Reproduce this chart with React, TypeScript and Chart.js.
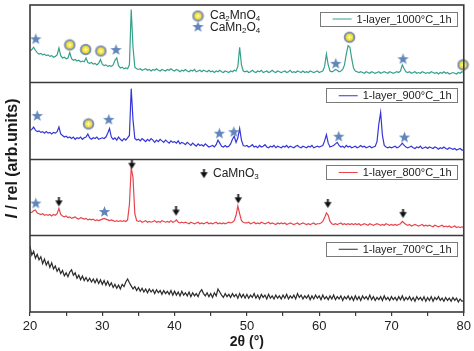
import React, { useEffect, useRef } from 'react';
import { Chart, registerables } from 'chart.js';

Chart.register(...registerables);

const FONT = '"Liberation Sans", Arial, Helvetica, sans-serif';

// 2θ grid: 20° .. 80° every 0.25°
const X_MIN = 20;
const X_MAX = 80;
const X_STEP = 0.25;

const sampleNames = ['1-layer_1000°C_1h', '1-layer_900°C_1h', '1-layer_800°C_1h', '1-layer_700°C_1h'];
const sampleColors = ['#35a08a', '#3535d8', '#e8444c', '#2b2b2b'];
const panelOffsets = [3, 2, 1, 0];

// intensities (fraction of panel height), one value every 0.25° from 20° to 80°
const s1000 = [
  0.40, 0.42, 0.45, 0.41, 0.38, 0.36, 0.37, 0.35, 0.36, 0.34, 0.35, 0.33, 0.34, 0.32, 0.33, 0.35, 0.44, 0.34, 0.31, 0.32,
  0.30, 0.31, 0.38, 0.30, 0.28, 0.29, 0.27, 0.28, 0.26, 0.27, 0.26, 0.31, 0.25, 0.24, 0.25, 0.23, 0.24, 0.22, 0.24, 0.29,
  0.23, 0.21, 0.22, 0.20, 0.21, 0.20, 0.22, 0.28, 0.31, 0.21, 0.18, 0.19, 0.17, 0.18, 0.17, 0.22, 0.94, 0.45, 0.19, 0.17,
  0.16, 0.17, 0.15, 0.16, 0.17, 0.15, 0.16, 0.14, 0.16, 0.15, 0.17, 0.15, 0.14, 0.16, 0.15, 0.14, 0.16, 0.15, 0.17, 0.15,
  0.14, 0.16, 0.15, 0.13, 0.15, 0.14, 0.16, 0.14, 0.13, 0.15, 0.14, 0.16, 0.13, 0.14, 0.15, 0.13, 0.15, 0.14, 0.13, 0.15,
  0.13, 0.14, 0.12, 0.14, 0.13, 0.15, 0.13, 0.12, 0.14, 0.13, 0.12, 0.14, 0.13, 0.15, 0.14, 0.20, 0.45, 0.22, 0.14, 0.13,
  0.14, 0.12, 0.13, 0.15, 0.13, 0.12, 0.14, 0.13, 0.15, 0.12, 0.13, 0.14, 0.12, 0.13, 0.15, 0.13, 0.12, 0.14, 0.13, 0.12,
  0.13, 0.14, 0.12, 0.13, 0.15, 0.12, 0.13, 0.12, 0.14, 0.13, 0.12, 0.14, 0.12, 0.13, 0.12, 0.14, 0.13, 0.12, 0.13, 0.14,
  0.12, 0.13, 0.14, 0.20, 0.36, 0.22, 0.14, 0.13, 0.14, 0.16, 0.15, 0.13, 0.14, 0.16, 0.22, 0.36, 0.47, 0.45, 0.30, 0.18,
  0.14, 0.13, 0.12, 0.13, 0.12, 0.11, 0.13, 0.12, 0.11, 0.13, 0.12, 0.11, 0.12, 0.13, 0.11, 0.12, 0.13, 0.12, 0.11, 0.13,
  0.12, 0.11, 0.12, 0.13, 0.12, 0.14, 0.22, 0.17, 0.13, 0.12, 0.13, 0.11, 0.12, 0.13, 0.11, 0.12, 0.11, 0.13, 0.12, 0.11,
  0.12, 0.11, 0.13, 0.12, 0.11, 0.12, 0.10, 0.12, 0.11, 0.13, 0.11, 0.12, 0.10, 0.11, 0.12, 0.11, 0.10, 0.12, 0.11, 0.13, 0.12,
];

const s900 = [
  0.36, 0.38, 0.41, 0.37, 0.35, 0.36, 0.34, 0.35, 0.33, 0.35, 0.33, 0.34, 0.32, 0.34, 0.33, 0.35, 0.41, 0.32, 0.30, 0.28,
  0.29, 0.27, 0.28, 0.26, 0.28, 0.25, 0.27, 0.26, 0.28, 0.25, 0.27, 0.28, 0.32, 0.27, 0.25, 0.27, 0.26, 0.28, 0.25, 0.26,
  0.27, 0.26, 0.28, 0.33, 0.39, 0.28, 0.25, 0.27, 0.24, 0.28, 0.25, 0.23, 0.26, 0.24, 0.27, 0.30, 0.91, 0.50, 0.26, 0.24,
  0.25, 0.23, 0.26, 0.24, 0.22, 0.25, 0.23, 0.26, 0.24, 0.21, 0.24, 0.22, 0.25, 0.23, 0.21, 0.24, 0.22, 0.20, 0.23, 0.21,
  0.22, 0.20, 0.23, 0.19, 0.21, 0.20, 0.18, 0.21, 0.19, 0.17, 0.20, 0.18, 0.16, 0.19, 0.17, 0.18, 0.16, 0.19, 0.17, 0.15,
  0.16, 0.17, 0.15, 0.18, 0.24, 0.20, 0.16, 0.15, 0.17, 0.15, 0.16, 0.19, 0.25, 0.29, 0.21, 0.27, 0.39, 0.24, 0.17, 0.16,
  0.17, 0.15, 0.16, 0.18, 0.15, 0.16, 0.14, 0.17, 0.15, 0.16, 0.18, 0.15, 0.14, 0.16, 0.15, 0.17, 0.14, 0.16, 0.15, 0.14,
  0.16, 0.15, 0.17, 0.14, 0.16, 0.15, 0.14, 0.16, 0.17, 0.15, 0.14, 0.16, 0.15, 0.14, 0.16, 0.15, 0.17, 0.14, 0.15, 0.16,
  0.15, 0.16, 0.17, 0.23, 0.31, 0.20, 0.15, 0.16, 0.17, 0.19, 0.21, 0.17, 0.15, 0.16, 0.14, 0.17, 0.15, 0.16, 0.14, 0.15,
  0.16, 0.14, 0.15, 0.17, 0.15, 0.16, 0.14, 0.15, 0.16, 0.14, 0.15, 0.16, 0.22, 0.45, 0.60, 0.30, 0.17, 0.15, 0.14, 0.15,
  0.14, 0.15, 0.16, 0.14, 0.15, 0.17, 0.20, 0.17, 0.15, 0.14, 0.15, 0.16, 0.14, 0.13, 0.15, 0.14, 0.16, 0.13, 0.14, 0.15,
  0.13, 0.15, 0.14, 0.13, 0.15, 0.14, 0.12, 0.14, 0.13, 0.15, 0.13, 0.12, 0.14, 0.13, 0.12, 0.13, 0.11, 0.12, 0.13, 0.11, 0.11,
];

const s800 = [
  0.29, 0.30, 0.32, 0.33, 0.29, 0.28, 0.27, 0.28, 0.26, 0.27, 0.26, 0.27, 0.25, 0.27, 0.26, 0.28, 0.35, 0.27, 0.25, 0.24,
  0.25, 0.23, 0.24, 0.22, 0.23, 0.24, 0.22, 0.21, 0.23, 0.22, 0.21, 0.22, 0.20, 0.21, 0.20, 0.21, 0.19, 0.20, 0.19, 0.20,
  0.21, 0.22, 0.21, 0.20, 0.19, 0.20, 0.19, 0.18, 0.19, 0.18, 0.19, 0.18, 0.19, 0.18, 0.20, 0.40, 0.88, 0.75, 0.28, 0.19,
  0.18, 0.19, 0.17, 0.18, 0.19, 0.17, 0.18, 0.17, 0.18, 0.19, 0.17, 0.18, 0.17, 0.19, 0.18, 0.17, 0.18, 0.17, 0.19, 0.17,
  0.18, 0.20, 0.17, 0.16, 0.17, 0.16, 0.17, 0.16, 0.15, 0.17, 0.16, 0.15, 0.16, 0.17, 0.15, 0.16, 0.15, 0.16, 0.17, 0.15,
  0.16, 0.15, 0.16, 0.17, 0.15, 0.16, 0.15, 0.16, 0.15, 0.16, 0.17, 0.16, 0.17, 0.19, 0.26, 0.38, 0.28, 0.19, 0.17, 0.16,
  0.16, 0.17, 0.15, 0.16, 0.17, 0.15, 0.16, 0.15, 0.17, 0.16, 0.15, 0.16, 0.17, 0.15, 0.16, 0.15, 0.14, 0.16, 0.15, 0.16,
  0.15, 0.16, 0.14, 0.15, 0.16, 0.15, 0.14, 0.15, 0.16, 0.14, 0.15, 0.16, 0.15, 0.14, 0.15, 0.14, 0.15, 0.16, 0.14, 0.15,
  0.15, 0.16, 0.18, 0.23, 0.29, 0.26, 0.18, 0.15, 0.14, 0.15, 0.14, 0.15, 0.16, 0.14, 0.15, 0.14, 0.15, 0.14, 0.15, 0.14,
  0.15, 0.14, 0.15, 0.13, 0.14, 0.15, 0.14, 0.13, 0.15, 0.14, 0.13, 0.14, 0.15, 0.14, 0.13, 0.14, 0.13, 0.15, 0.14, 0.13,
  0.14, 0.13, 0.14, 0.13, 0.14, 0.15, 0.18, 0.16, 0.14, 0.13, 0.14, 0.12, 0.13, 0.14, 0.13, 0.12, 0.13, 0.14, 0.12, 0.13,
  0.12, 0.13, 0.12, 0.11, 0.13, 0.12, 0.11, 0.12, 0.13, 0.11, 0.12, 0.11, 0.12, 0.10, 0.11, 0.12, 0.10, 0.11, 0.10, 0.11, 0.10,
];

const s700 = [
  0.86, 0.74, 0.79, 0.70, 0.75, 0.68, 0.72, 0.63, 0.69, 0.61, 0.66, 0.58, 0.64, 0.56, 0.60, 0.53, 0.57, 0.50, 0.54, 0.47,
  0.51, 0.46, 0.52, 0.55, 0.48, 0.51, 0.44, 0.48, 0.42, 0.47, 0.41, 0.45, 0.40, 0.44, 0.39, 0.43, 0.38, 0.43, 0.37, 0.42,
  0.36, 0.41, 0.35, 0.40, 0.34, 0.38, 0.32, 0.36, 0.31, 0.35, 0.30, 0.36, 0.33, 0.39, 0.43, 0.38, 0.34, 0.30, 0.33, 0.28,
  0.32, 0.27, 0.31, 0.26, 0.30, 0.25, 0.30, 0.26, 0.29, 0.24, 0.29, 0.25, 0.28, 0.23, 0.28, 0.24, 0.27, 0.23, 0.28, 0.22,
  0.27, 0.22, 0.26, 0.21, 0.27, 0.22, 0.25, 0.21, 0.26, 0.20, 0.25, 0.21, 0.24, 0.20, 0.26, 0.29, 0.24, 0.21, 0.25, 0.20,
  0.24, 0.19, 0.25, 0.21, 0.30, 0.26, 0.22, 0.19, 0.24, 0.20, 0.23, 0.19, 0.24, 0.20, 0.23, 0.18, 0.24, 0.19, 0.23, 0.18,
  0.23, 0.18, 0.22, 0.19, 0.24, 0.18, 0.22, 0.17, 0.23, 0.19, 0.22, 0.17, 0.23, 0.18, 0.21, 0.17, 0.22, 0.18, 0.21, 0.17,
  0.22, 0.18, 0.23, 0.17, 0.21, 0.18, 0.22, 0.17, 0.24, 0.19, 0.22, 0.17, 0.21, 0.18, 0.22, 0.16, 0.21, 0.17, 0.22, 0.18,
  0.21, 0.16, 0.22, 0.17, 0.20, 0.16, 0.21, 0.17, 0.22, 0.16, 0.20, 0.17, 0.21, 0.15, 0.20, 0.17, 0.21, 0.16, 0.20, 0.15,
  0.21, 0.16, 0.20, 0.15, 0.21, 0.17, 0.20, 0.16, 0.22, 0.16, 0.20, 0.15, 0.19, 0.16, 0.20, 0.15, 0.21, 0.16, 0.19, 0.15,
  0.20, 0.16, 0.19, 0.15, 0.20, 0.16, 0.21, 0.15, 0.19, 0.16, 0.20, 0.15, 0.19, 0.14, 0.20, 0.16, 0.19, 0.15, 0.20, 0.14,
  0.19, 0.15, 0.20, 0.14, 0.19, 0.16, 0.20, 0.15, 0.18, 0.14, 0.19, 0.15, 0.18, 0.14, 0.19, 0.15, 0.18, 0.13, 0.17, 0.14, 0.15,
];

const seriesValues = [s1000, s900, s800, s700];

// phase markers: [2θ, height as fraction of panel]
const ca2mno4_1000 = [[25.5, 0.48], [27.7, 0.42], [29.8, 0.40], [64.2, 0.58], [79.9, 0.22]];
const camn2o4_1000 = [[20.8, 0.56], [31.9, 0.42], [62.3, 0.24], [71.6, 0.30]];
const ca2mno4_900 = [[28.1, 0.45]];
const camn2o4_900 = [[21.0, 0.56], [30.9, 0.51], [46.2, 0.33], [48.2, 0.35], [62.7, 0.29], [71.8, 0.28]];
const camn2o4_800 = [[20.8, 0.42], [30.3, 0.31]];
const camno3_800 = [[24.0, 0.43], [34.1, 0.92], [40.2, 0.31], [48.8, 0.47], [61.2, 0.41], [71.6, 0.28]];

function makeStar(): HTMLCanvasElement {
  const c = document.createElement('canvas');
  c.width = 13; c.height = 13;
  const g = c.getContext('2d')!;
  g.beginPath();
  for (let k = 0; k < 10; k++) {
    const r = k % 2 === 0 ? 6 : 2.5;
    const a = -Math.PI / 2 + (k * Math.PI) / 5;
    const px = 6.5 + r * Math.cos(a);
    const py = 7 + r * Math.sin(a);
    if (k === 0) g.moveTo(px, py); else g.lineTo(px, py);
  }
  g.closePath();
  g.fillStyle = '#6286bb';
  g.fill();
  return c;
}

function makeCircle(): HTMLCanvasElement {
  const c = document.createElement('canvas');
  c.width = 13; c.height = 13;
  const g = c.getContext('2d')!;
  g.beginPath(); g.arc(6.5, 6.5, 5.8, 0, Math.PI * 2); g.fillStyle = '#7e8dae'; g.fill();
  g.beginPath(); g.arc(6.5, 6.5, 3.8, 0, Math.PI * 2); g.fillStyle = '#eee03a'; g.fill();
  g.strokeStyle = '#fff7a8'; g.lineWidth = 1.3;
  g.beginPath(); g.moveTo(4.3, 6.5); g.lineTo(8.7, 6.5); g.moveTo(6.5, 4.3); g.lineTo(6.5, 8.7); g.stroke();
  return c;
}

function makeArrow(): HTMLCanvasElement {
  const c = document.createElement('canvas');
  c.width = 9; c.height = 10;
  const g = c.getContext('2d')!;
  g.fillStyle = '#111';
  g.fillRect(3.6, 0, 1.8, 4);
  g.beginPath(); g.moveTo(0.8, 3.2); g.lineTo(8.2, 3.2); g.lineTo(4.5, 9.2); g.closePath(); g.fill();
  return c;
}

function drawChem(ctx: CanvasRenderingContext2D, parts: [string, boolean][], x: number, y: number) {
  let cx = x;
  for (const [t, sub] of parts) {
    ctx.font = sub ? `8px ${FONT}` : `12px ${FONT}`;
    ctx.fillText(t, cx, sub ? y + 3 : y);
    cx += ctx.measureText(t).width;
  }
}

export default function App() {
  const ref = useRef<HTMLCanvasElement | null>(null);

  useEffect(() => {
    if (!ref.current) return;
    const star = makeStar();
    const circle = makeCircle();
    const arrow = makeArrow();

    const markerSet = (pts: number[][], off: number, img: HTMLCanvasElement) => ({
      data: pts.map(([x, y]) => ({ x, y: y + off })),
      showLine: false,
      pointStyle: img,
      pointRadius: 5,
      pointHoverRadius: 5,
      borderWidth: 0,
      clip: false as any,
    });

    const lineSets = seriesValues.map((vals, k) => ({
      label: sampleNames[k],
      data: vals.map((v, i) => ({ x: X_MIN + i * X_STEP, y: v + panelOffsets[k] })),
      borderColor: sampleColors[k],
      backgroundColor: sampleColors[k],
      borderWidth: 1.2,
      pointRadius: 0,
      tension: 0,
      fill: false,
    }));

    const framePlugin = {
      id: 'xrdFrame',
      afterDatasetsDraw(chart: any) {
        const { ctx, chartArea: a, scales } = chart;
        const y = scales.y;
        ctx.save();
        // panel separators and frame
        ctx.strokeStyle = '#3a3a3a';
        ctx.lineWidth = 1.6;
        for (let k = 1; k <= 3; k++) {
          const yy = Math.round(y.getPixelForValue(k)) + 0.5;
          ctx.beginPath(); ctx.moveTo(a.left, yy); ctx.lineTo(a.right, yy); ctx.stroke();
        }
        ctx.strokeRect(a.left, a.top, a.right - a.left, a.bottom - a.top);

        // sample legend boxes
        ctx.textBaseline = 'middle';
        ctx.textAlign = 'left';
        ctx.font = `11px ${FONT}`;
        for (let k = 0; k < 4; k++) {
          const top = y.getPixelForValue(panelOffsets[k] + 1) + 6.5;
          const h = 14;
          const right = 457.5;
          const tw = ctx.measureText(sampleNames[k]).width;
          const tx = right - 6 - tw;
          const l2 = tx - 5;
          const l1 = l2 - 19;
          const left = l1 - 12.5;
          ctx.fillStyle = '#ffffff';
          ctx.fillRect(left, top, right - left, h);
          ctx.strokeStyle = '#7a7a7a';
          ctx.lineWidth = 1;
          ctx.strokeRect(Math.round(left) + 0.5, Math.round(top) + 0.5, Math.round(right - left), h);
          ctx.strokeStyle = sampleColors[k];
          ctx.beginPath(); ctx.moveTo(l1, top + h / 2 + 0.5); ctx.lineTo(l2, top + h / 2 + 0.5); ctx.stroke();
          ctx.fillStyle = '#222';
          ctx.fillText(sampleNames[k], tx, top + h / 2 + 1);
        }

        // phase legends
        ctx.drawImage(circle, 198 - 6.5, 16 - 6.5);
        ctx.drawImage(star, 198 - 6.5, 27 - 7);
        ctx.fillStyle = '#222';
        drawChem(ctx, [['Ca', false], ['2', true], ['MnO', false], ['4', true]], 210, 16);
        drawChem(ctx, [['CaMn', false], ['2', true], ['O', false], ['4', true]], 210, 28);
        ctx.drawImage(arrow, 204 - 4.5, 174 - 5);
        drawChem(ctx, [['CaMnO', false], ['3', true]], 213, 174);

        // y-axis title
        ctx.translate(13, (a.top + a.bottom) / 2);
        ctx.rotate(-Math.PI / 2);
        const f1 = `italic bold 16px ${FONT}`;
        const f2 = `bold 16px ${FONT}`;
        ctx.font = f1;
        const w1 = ctx.measureText('I').width;
        ctx.font = f2;
        const rest = ' / rel (arb.units)';
        const w2 = ctx.measureText(rest).width;
        const sx = -(w1 + w2) / 2;
        ctx.fillStyle = '#1a1a1a';
        ctx.font = f1;
        ctx.fillText('I', sx, 0);
        ctx.font = f2;
        ctx.fillText(rest, sx + w1, 0);
        ctx.restore();
      },
    };

    const chart = new Chart(ref.current, {
      type: 'line',
      data: {
        datasets: [
          markerSet(ca2mno4_1000, 3, circle),
          markerSet(camn2o4_1000, 3, star),
          markerSet(ca2mno4_900, 2, circle),
          markerSet(camn2o4_900, 2, star),
          markerSet(camn2o4_800, 1, star),
          markerSet(camno3_800, 1, arrow),
          ...lineSets,
        ] as any,
      },
      options: {
        responsive: false,
        animation: false,
        devicePixelRatio: 1,
        layout: { padding: { left: 30, right: 7, top: 3, bottom: 0 } },
        plugins: { legend: { display: false }, tooltip: { enabled: false } },
        events: [],
        scales: {
          x: {
            type: 'linear',
            min: X_MIN,
            max: X_MAX,
            ticks: {
              stepSize: 5,
              autoSkip: false,
              maxRotation: 0,
              padding: 3,
              color: '#222',
              font: { family: FONT, size: 13 },
              callback: (v: any) => (Number(v) % 10 === 0 ? String(v) : ''),
            },
            grid: { drawOnChartArea: false, drawTicks: true, tickLength: 4, color: '#3a3a3a', lineWidth: 1.2 },
            border: { display: false },
            title: {
              display: true,
              text: '2θ (°)',
              color: '#1a1a1a',
              font: { family: FONT, size: 14, weight: 'bold' },
              padding: { top: 0, bottom: 0 },
            },
            afterFit: (s: any) => { s.height = 39; },
          },
          y: { type: 'linear', min: 0, max: 4, display: false },
        },
      } as any,
      plugins: [framePlugin],
    });
    return () => chart.destroy();
  }, []);

  return (
    <div style={{ position: 'fixed', left: 0, top: 0, width: 474, height: 351, background: '#fff' }}>
      <canvas ref={ref} width={474} height={351} style={{ display: 'block' }} />
    </div>
  );
}
